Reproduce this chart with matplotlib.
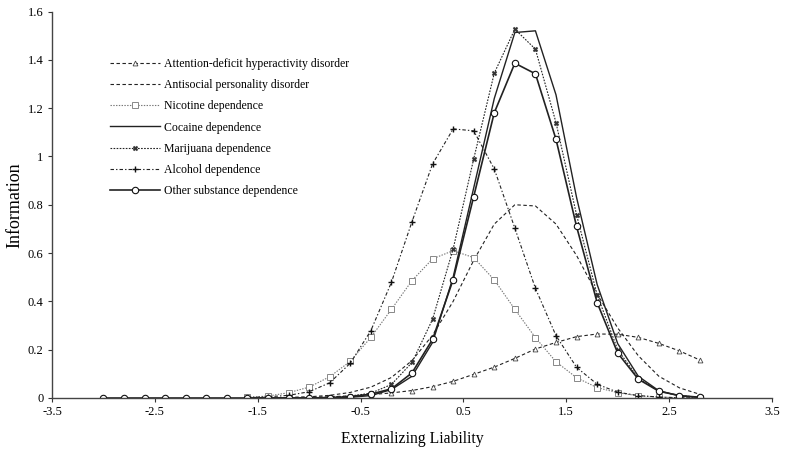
import matplotlib
matplotlib.use("Agg")
import matplotlib.pyplot as plt

plt.rcParams['font.family'] = ['Liberation Serif', 'DejaVu Serif']
plt.rcParams['axes.unicode_minus'] = False
plt.rcParams['lines.scale_dashes'] = False

# theta grid (Other substance has points over the whole range, the rest from -1.6)
x_full = [-3.0, -2.8, -2.6, -2.4, -2.2, -2.0, -1.8, -1.6, -1.4, -1.2, -1.0, -0.8, -0.6, -0.4, -0.2,
          0.0, 0.2, 0.4, 0.6, 0.8, 1.0, 1.2, 1.4, 1.6, 1.8, 2.0, 2.2, 2.4, 2.6, 2.8]
x_part = [-1.6, -1.4, -1.2, -1.0, -0.8, -0.6, -0.4, -0.2,
          0.0, 0.2, 0.4, 0.6, 0.8, 1.0, 1.2, 1.4, 1.6, 1.8, 2.0, 2.2, 2.4, 2.6, 2.8]

adhd = [0.0, 0.001, 0.002, 0.003, 0.005, 0.009, 0.014, 0.021,
        0.031, 0.047, 0.069, 0.098, 0.128, 0.164, 0.203, 0.230, 0.254, 0.265, 0.264, 0.251, 0.226, 0.195, 0.157]
aspd = [0.0, 0.001, 0.002, 0.005, 0.011, 0.023, 0.045, 0.085,
        0.155, 0.26, 0.40, 0.57, 0.72, 0.80, 0.795, 0.72, 0.59, 0.43, 0.29, 0.175, 0.09, 0.042, 0.015]
nicotine = [0.003, 0.008, 0.022, 0.045, 0.088, 0.152, 0.251, 0.367,
            0.486, 0.576, 0.61, 0.581, 0.489, 0.367, 0.25, 0.15, 0.084, 0.043, 0.022, 0.009, 0.004, 0.001, 0.0]
cocaine = [0.0, 0.0, 0.0, 0.0, 0.001, 0.003, 0.01, 0.035,
           0.09, 0.23, 0.50, 0.87, 1.24, 1.513, 1.52, 1.255, 0.83, 0.47, 0.225, 0.09, 0.03, 0.009, 0.002]
marijuana = [0.0, 0.0, 0.001, 0.001, 0.003, 0.008, 0.02, 0.056,
             0.147, 0.326, 0.617, 0.99, 1.345, 1.527, 1.444, 1.14, 0.758, 0.427, 0.2, 0.082, 0.028, 0.01, 0.003]
alcohol = [0.002, 0.005, 0.011, 0.026, 0.063, 0.144, 0.279, 0.479,
           0.73, 0.969, 1.114, 1.106, 0.948, 0.703, 0.454, 0.258, 0.127, 0.057, 0.024, 0.01, 0.004, 0.001, 0.0]
other = [0.0, 0.0, 0.0, 0.0, 0.0, 0.0, 0.0, 0.0, 0.0, 0.0, 0.0, 0.002, 0.005, 0.016, 0.038,
         0.104, 0.243, 0.49, 0.834, 1.181, 1.386, 1.342, 1.071, 0.71, 0.395, 0.186, 0.078, 0.028, 0.01, 0.003]

xticks = [-3.5, -2.5, -1.5, -0.5, 0.5, 1.5, 2.5, 3.5]
yticks = [0, 0.2, 0.4, 0.6, 0.8, 1.0, 1.2, 1.4, 1.6]
ylabels = ['0', '0.2', '0.4', '0.6', '0.8', '1', '1.2', '1.4', '1.6']

fig = plt.figure(figsize=(7.85, 4.49), dpi=100)
ax = fig.add_axes([52 / 785, 1 - 398 / 449, 720 / 785, 386.5 / 449])

dk = '#222222'
ax.plot(x_part, adhd, color=dk, lw=0.8, dashes=(2.5, 1.8), marker='^', ms=3.5,
        mfc='white', mec='#444444', mew=0.6, label='Attention-deficit hyperactivity disorder')
ax.plot(x_part, aspd, color=dk, lw=0.8, dashes=(2.5, 1.8),
        label='Antisocial personality disorder')
ax.plot(x_part, nicotine, color='#777777', lw=0.8, dashes=(1, 1), marker='s', ms=4,
        mfc='white', mec='#888888', mew=0.7, label='Nicotine dependence')
ax.plot(x_part, cocaine, color=dk, lw=1.0, label='Cocaine dependence')
ax.plot(x_part, marijuana, color=dk, lw=0.8, dashes=(1.2, 1.0), marker='X', ms=3.5,
        mfc='#333333', mec='#333333', mew=0.3, label='Marijuana dependence')
ax.plot(x_part, alcohol, color=dk, lw=0.8, dashes=(2.5, 1.5, 1, 1.5), marker='+', ms=5,
        mec='#111111', mew=1.0, label='Alcohol dependence')
ax.plot(x_full, other, color=dk, lw=1.2, marker='o', ms=4.6,
        mfc='white', mec='#111111', mew=0.8, label='Other substance dependence')

ax.set_xlim(-3.5, 3.5)
ax.set_ylim(0, 1.6)
ax.set_xticks(xticks)
ax.set_xticklabels([str(v) for v in xticks])
ax.set_yticks(yticks)
ax.set_yticklabels(ylabels)
ax.tick_params(axis='both', labelsize=9, length=3, width=0.8, color='#333333', pad=3)

for s in ['top', 'right']:
    ax.spines[s].set_visible(False)
for s in ['left', 'bottom']:
    ax.spines[s].set_color('#444444')
    ax.spines[s].set_linewidth(1.0)

ax.set_xlabel('Externalizing Liability', fontsize=11.3, labelpad=9)
ax.set_ylabel('Information', fontsize=13, labelpad=3)

ax.legend(loc='upper left', bbox_to_anchor=(110 / 785, 1 - 58 / 449), bbox_transform=fig.transFigure,
          frameon=False, fontsize=8.5, handlelength=4.2, handletextpad=0.4, labelspacing=0.78,
          borderpad=0, borderaxespad=0)

fig.savefig('out.png', dpi=100)
